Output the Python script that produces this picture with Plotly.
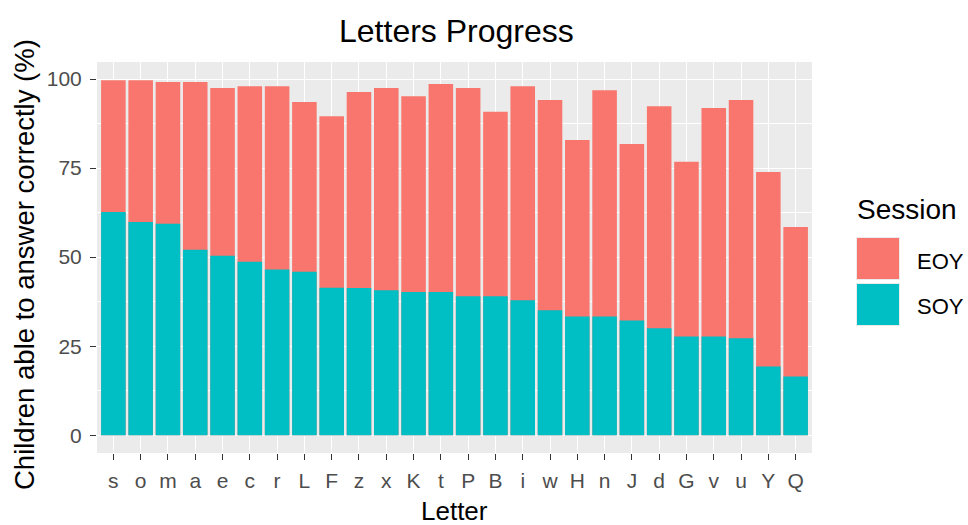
import plotly.graph_objects as go

# letters in plotted order (sorted by SOY score)
letters = ['s', 'o', 'm', 'a', 'e', 'c', 'r', 'L', 'F', 'z', 'x', 'K', 't',
           'P', 'B', 'i', 'w', 'H', 'n', 'J', 'd', 'G', 'v', 'u', 'Y', 'Q']

# percent of children answering correctly, end of year
eoy = [99.7, 99.7, 99.2, 99.2, 97.5, 98.0, 98.0, 93.6, 89.6, 96.4, 97.5, 95.2, 98.6,
       97.5, 90.8, 98.0, 94.1, 82.9, 96.9, 81.8, 92.4, 76.8, 91.9, 94.1, 73.9, 58.5]

# percent of children answering correctly, start of year
soy = [62.7, 59.9, 59.4, 52.1, 50.4, 48.7, 46.5, 45.9, 41.4, 41.3, 40.7, 40.2, 40.2,
       39.0, 39.0, 37.9, 35.1, 33.3, 33.3, 32.2, 30.0, 27.7, 27.7, 27.2, 19.3, 16.5]

yticks = [0, 25, 50, 75, 100]

EOY_COL = '#F8766D'
SOY_COL = '#00BFC4'
FONT = 'Liberation Sans, Arial, sans-serif'

# plot area in pixels (968x525 page)
L, R, T, B = 97, 812, 62, 453
W, H = 968, 525


def px(x):
    return (x - L) / (R - L)


def py(y):
    return (B - y) / (B - T)


fig = go.Figure()
fig.add_trace(go.Bar(x=letters, y=eoy, name='EOY', marker=dict(color=EOY_COL, line=dict(width=0)),
                     width=0.9, showlegend=False))
fig.add_trace(go.Bar(x=letters, y=soy, name='SOY', marker=dict(color=SOY_COL, line=dict(width=0)),
                     width=0.9, showlegend=False))

fig.update_layout(
    width=W, height=H,
    barmode='overlay',
    margin=dict(l=L, r=W - R, t=T, b=H - B),
    paper_bgcolor='white',
    plot_bgcolor='#EBEBEB',
    font=dict(family=FONT, color='#4D4D4D'),
    xaxis=dict(
        range=[-0.6, 25.6], showgrid=True, gridcolor='white', gridwidth=1.1,
        ticks='outside', ticklen=6, tickcolor='#333333', tickwidth=1,
        tickfont=dict(size=21, color='#4D4D4D'), ticklabelstandoff=3,
        zeroline=False, showline=False, fixedrange=True,
    ),
    yaxis=dict(
        range=[-5, 104.8], tickvals=yticks, showgrid=True, gridcolor='white', gridwidth=1.1,
        minor=dict(showgrid=True, gridcolor='white', gridwidth=0.55, tickvals=[12.5, 37.5, 62.5, 87.5]),
        ticks='outside', ticklen=6, tickcolor='#333333', tickwidth=1,
        tickfont=dict(size=21, color='#4D4D4D'), ticklabelstandoff=4,
        zeroline=False, showline=False, fixedrange=True,
    ),
)

annotations = [
    dict(text='Letters Progress', x=px(456), y=py(31), xref='paper', yref='paper',
         showarrow=False, xanchor='center', yanchor='middle', font=dict(size=32, color='black')),
    dict(text='Letter', x=px(454.5), y=py(511), xref='paper', yref='paper',
         showarrow=False, xanchor='center', yanchor='middle', font=dict(size=26, color='black')),
    dict(text='Children able to answer correctly (%)', x=px(24), y=py(265), xref='paper', yref='paper',
         showarrow=False, textangle=-90, xanchor='center', yanchor='middle', font=dict(size=27.5, color='black')),
    dict(text='Session', x=px(855), y=py(209), xref='paper', yref='paper',
         showarrow=False, xanchor='left', yanchor='middle', font=dict(size=28, color='black')),
    dict(text='EOY', x=px(915), y=py(261), xref='paper', yref='paper',
         showarrow=False, xanchor='left', yanchor='middle', font=dict(size=22, color='black')),
    dict(text='SOY', x=px(915), y=py(306), xref='paper', yref='paper',
         showarrow=False, xanchor='left', yanchor='middle', font=dict(size=22, color='black')),
]
fig.update_layout(annotations=annotations)

# legend keys
shapes = [
    dict(type='rect', xref='paper', yref='paper', x0=px(856), x1=px(900), y0=py(280), y1=py(237),
         fillcolor='#EBEBEB', line=dict(width=0)),
    dict(type='rect', xref='paper', yref='paper', x0=px(857), x1=px(899), y0=py(279), y1=py(238),
         fillcolor=EOY_COL, line=dict(width=0)),
    dict(type='rect', xref='paper', yref='paper', x0=px(856), x1=px(900), y0=py(326), y1=py(283),
         fillcolor='#EBEBEB', line=dict(width=0)),
    dict(type='rect', xref='paper', yref='paper', x0=px(857), x1=px(899), y0=py(325), y1=py(284),
         fillcolor=SOY_COL, line=dict(width=0)),
]
fig.update_layout(shapes=shapes)

fig.write_html('out.html', config=dict(displayModeBar=False),
               post_script="document.body.style.margin='0';document.body.style.overflow='hidden';")
